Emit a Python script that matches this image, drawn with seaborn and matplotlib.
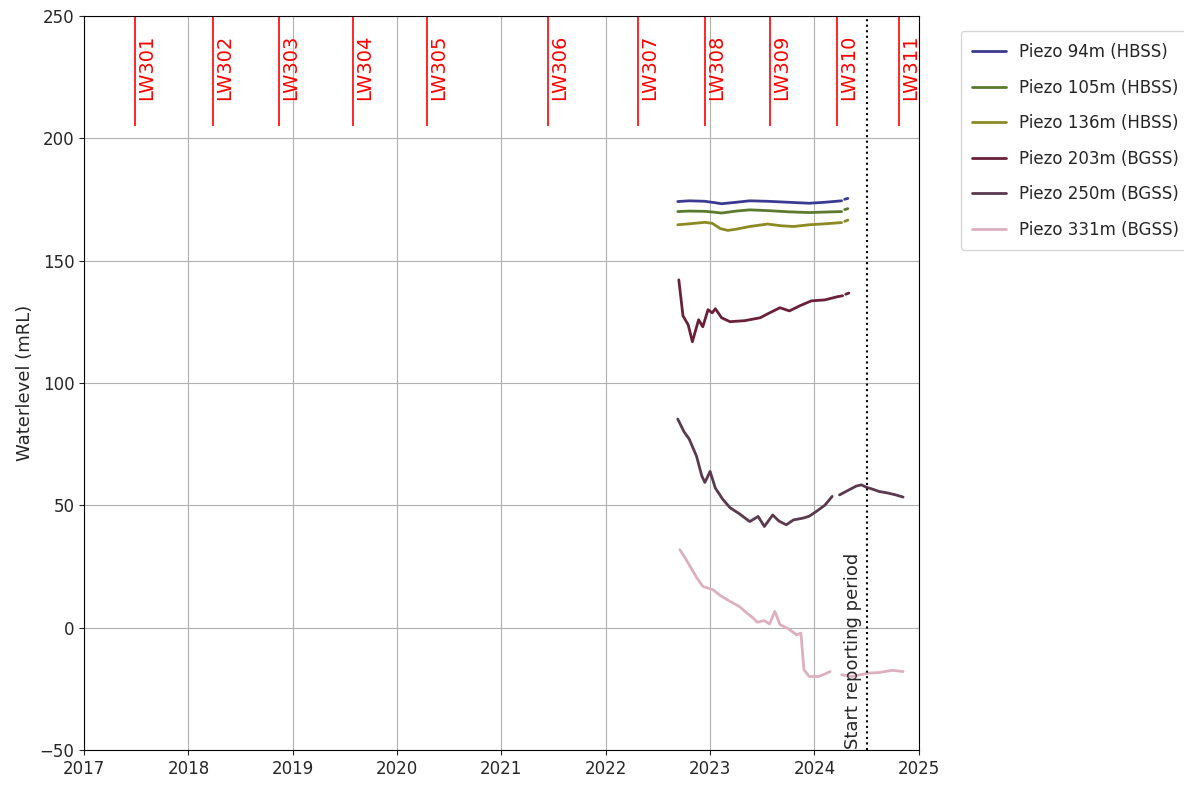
import numpy as np
import pandas as pd
import seaborn as sns
import matplotlib.pyplot as plt

# decimal-year positions and water levels (mRL), segments split where the record has gaps
p94_x = [2022.69, 2022.8, 2022.95, 2023.05, 2023.11, 2023.25, 2023.38, 2023.55, 2023.75, 2023.95, 2024.1, 2024.26]
p94_y = [174.1, 174.4, 174.2, 173.6, 173.2, 173.8, 174.4, 174.2, 173.8, 173.4, 173.8, 174.4]
p94_x2 = [2024.29, 2024.32]
p94_y2 = [175.0, 175.4]

p105_x = [2022.69, 2022.8, 2022.95, 2023.05, 2023.11, 2023.25, 2023.38, 2023.55, 2023.75, 2023.95, 2024.1, 2024.26]
p105_y = [170.0, 170.2, 170.1, 169.7, 169.4, 170.2, 170.7, 170.4, 169.9, 169.6, 169.8, 170.0]
p105_x2 = [2024.29, 2024.32]
p105_y2 = [170.8, 171.2]

p136_x = [2022.69, 2022.8, 2022.95, 2023.02, 2023.1, 2023.17, 2023.25, 2023.38, 2023.55, 2023.68, 2023.8, 2023.95, 2024.1, 2024.26]
p136_y = [164.6, 165.0, 165.6, 165.2, 163.0, 162.3, 162.8, 163.9, 164.9, 164.2, 163.9, 164.6, 165.0, 165.5]
p136_x2 = [2024.29, 2024.32]
p136_y2 = [166.0, 166.5]

p203_x = [2022.7, 2022.74, 2022.79, 2022.83, 2022.89, 2022.93, 2022.98, 2023.02, 2023.05, 2023.11,
          2023.19, 2023.33, 2023.48, 2023.57, 2023.67, 2023.76, 2023.86, 2023.97, 2024.1, 2024.22, 2024.27]
p203_y = [142.1, 127.4, 123.7, 116.8, 125.8, 122.9, 129.9, 128.6, 130.3, 126.6,
          125.0, 125.4, 126.6, 128.6, 130.7, 129.4, 131.5, 133.5, 133.9, 135.2, 135.6]
p203_x2 = [2024.3, 2024.33]
p203_y2 = [136.2, 136.7]

p250_x = [2022.69, 2022.75, 2022.8, 2022.87, 2022.92, 2022.95, 2023.0, 2023.05, 2023.12, 2023.19,
          2023.28, 2023.38, 2023.46, 2023.52, 2023.6, 2023.66, 2023.73, 2023.8, 2023.89, 2023.95,
          2024.02, 2024.1, 2024.17]
p250_y = [85.2, 80.0, 77.0, 70.0, 62.0, 59.3, 63.8, 57.0, 52.5, 49.0,
          46.5, 43.3, 45.4, 41.3, 46.0, 43.5, 42.0, 44.0, 44.7, 45.5,
          47.5, 50.0, 53.6]
p250_x2 = [2024.24, 2024.32, 2024.4, 2024.45, 2024.5, 2024.56, 2024.62, 2024.7, 2024.78, 2024.85]
p250_y2 = [54.2, 56.0, 57.8, 58.3, 57.3, 56.5, 55.6, 55.0, 54.2, 53.3]

p331_x = [2022.71, 2022.76, 2022.8, 2022.87, 2022.93, 2023.03, 2023.1, 2023.19, 2023.28, 2023.35,
          2023.41, 2023.45, 2023.52, 2023.57, 2023.62, 2023.67, 2023.75, 2023.83, 2023.87, 2023.9,
          2023.95, 2024.04, 2024.1, 2024.15]
p331_y = [31.8, 28.5, 25.6, 20.5, 16.8, 15.4, 13.0, 10.7, 8.6, 6.0,
          4.0, 2.2, 2.8, 1.5, 6.6, 1.2, -0.5, -3.0, -2.3, -17.3,
          -20.0, -20.0, -19.0, -18.0]
p331_x2 = [2024.26, 2024.36, 2024.45, 2024.53, 2024.62, 2024.7, 2024.75, 2024.85]
p331_y2 = [-19.3, -20.0, -19.2, -18.6, -18.4, -17.8, -17.5, -18.0]

series = ["Piezo 94m (HBSS)", "Piezo 105m (HBSS)", "Piezo 136m (HBSS)",
          "Piezo 203m (BGSS)", "Piezo 250m (BGSS)", "Piezo 331m (BGSS)"]
colors = ["#3a3a92", "#5b7a2e", "#8c8a22", "#6a2038", "#5a3a4c", "#dcb0be"]

segments = [
    (p94_x, p94_y, p94_x2, p94_y2),
    (p105_x, p105_y, p105_x2, p105_y2),
    (p136_x, p136_y, p136_x2, p136_y2),
    (p203_x, p203_y, p203_x2, p203_y2),
    (p250_x, p250_y, p250_x2, p250_y2),
    (p331_x, p331_y, p331_x2, p331_y2),
]

# longwall start dates
lw_names = ["LW301", "LW302", "LW303", "LW304", "LW305", "LW306",
            "LW307", "LW308", "LW309", "LW310", "LW311"]
lw_dates = [2017.49, 2018.24, 2018.87, 2019.58, 2020.29, 2021.45,
            2022.31, 2022.95, 2023.57, 2024.22, 2024.81]
report_start = 2024.5

rows = []
for name, (x1, y1, x2, y2) in zip(series, segments):
    for x, y in zip(x1, y1):
        rows.append((name, 0, x, y))
    for x, y in zip(x2, y2):
        rows.append((name, 1, x, y))
df = pd.DataFrame(rows, columns=["piezo", "seg", "date", "level"])

sns.set_style("ticks")
plt.rcParams["font.family"] = ["DejaVu Sans"]

fig = plt.figure(figsize=(11.84, 7.91), dpi=100)
ax = fig.add_axes([0.071, 0.052, 0.705, 0.928])

sns.lineplot(data=df, x="date", y="level", hue="piezo", units="seg", estimator=None,
             palette=colors, hue_order=series, linewidth=2, ax=ax, sort=True)

for name, d in zip(lw_names, lw_dates):
    ax.vlines(d, 205, 250, color="red", linewidth=1.2)
    ax.text(d + 0.02, 242.5, name, rotation=90, color="red", fontsize=14,
            ha="left", va="top")

ax.axvline(report_start, color="black", linestyle=":", linewidth=1.5)
ax.text(report_start - 0.04, -49.5, "Start reporting period", rotation=90,
        ha="right", va="bottom", fontsize=13)

ax.set_xlim(2017, 2025)
ax.set_ylim(-50, 250)
ax.set_xticks(range(2017, 2026))
ax.set_yticks(range(-50, 251, 50))
ax.tick_params(labelsize=12)
ax.grid(True, color="#b0b0b0", linewidth=0.8)
ax.set_xlabel("")
ax.set_ylabel("Waterlevel (mRL)", fontsize=13)
for s in ax.spines.values():
    s.set_color("black")

ax.legend(loc="upper left", bbox_to_anchor=(1.04, 0.99), fontsize=12,
          frameon=True, handlelength=2, labelspacing=1.05, borderpad=0.7)

fig.savefig("out.png", dpi=100)
